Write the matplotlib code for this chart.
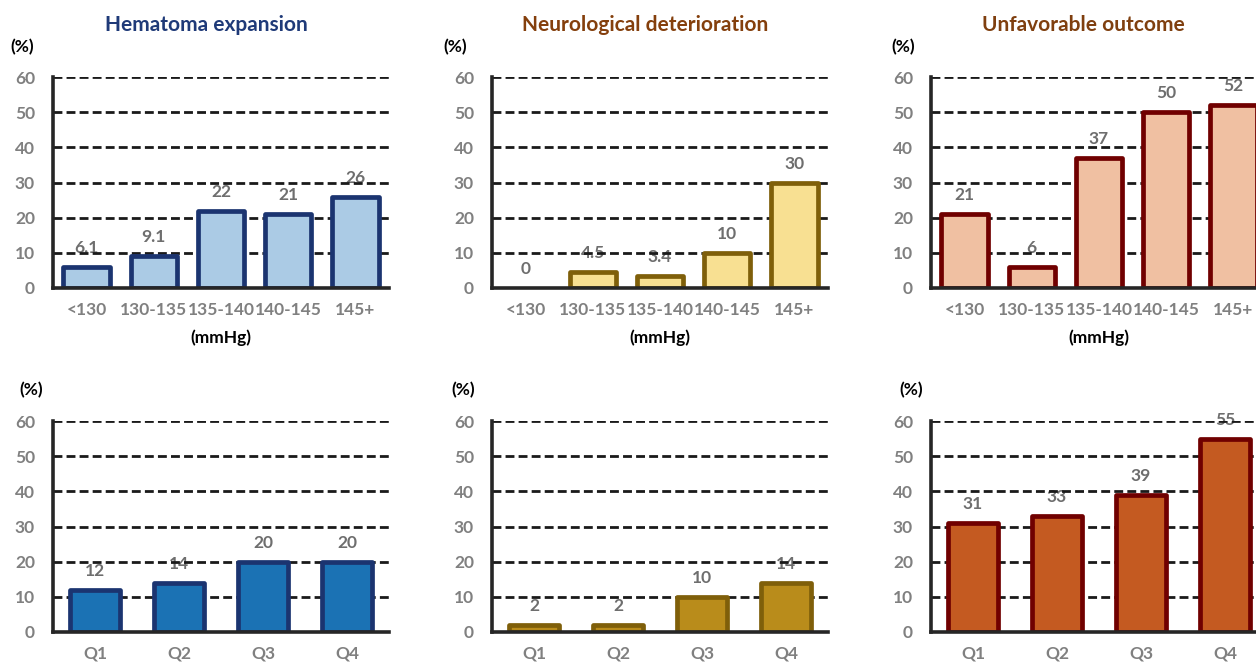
import numpy as np
from matplotlib import pyplot as plt

plt.rcParams['font.family'] = ['Lato', 'DejaVu Sans']
plt.rcParams['font.weight'] = 'bold'

# 数据
bp_cats = ['<130', '130-135', '135-140', '140-145', '145+']
q_cats = ['Q1', 'Q2', 'Q3', 'Q4']

he_bp = [6.1, 9.1, 22, 21, 26]
nd_bp = [0, 4.5, 3.4, 10, 30]
uo_bp = [21, 6, 37, 50, 52]

he_q = [12, 14, 20, 20]
nd_q = [2, 2, 10, 14]
uo_q = [31, 33, 39, 55]

bp_labels = ['6.1', '9.1', '22', '21', '26'], ['0', '4.5', '3.4', '10', '30'], ['21', '6', '37', '50', '52']

titles = ['Hematoma expansion', 'Neurological deterioration', 'Unfavorable outcome']
title_colors = ['#1f3a78', '#843f0c', '#7f3f0f']

edge_colors = ['#1b3470', '#7f5f0a', '#700000']
fill_top = ['#abcbe5', '#f8e092', '#f0c0a2']
fill_bot = ['#1b72b4', '#b98c1b', '#c45a21']

W, H = 1256, 666
fig = plt.figure(figsize=(12.56, 6.66), dpi=100)

lefts = [53, 492, 931]
aw = 336
ah = 211
tops = [77, 421]
pct_x = [[22, 455, 903], [31, 463, 911]]
pct_y = [47, 390]
title_x = [206, 645, 1083]

fs = 12.5


def draw(ax, cats, vals, labels, fill, edge, width):
    x = np.arange(len(cats))
    ax.set_xlim(-0.5, len(cats) - 0.5)
    ax.set_ylim(0, 60)
    for v in range(10, 61, 10):
        ax.axhline(v, color='#1a1a1a', lw=2.0, dashes=(3.2, 1.5), zorder=1.5)
    bars = ax.bar(x, vals, width=width, color=fill, edgecolor=edge, linewidth=3.4, zorder=2)
    for b, v in zip(bars, vals):
        b.set_joinstyle('round')
        if v == 0:
            b.set_edgecolor('none')
    for xi, v, lab in zip(x, vals, labels):
        ax.annotate(lab, (xi, v), xytext=(0, 13.5), textcoords='offset points',
                    ha='center', va='center', fontsize=fs, color='#6e6e6e',
                    fontweight='bold', zorder=1)
    ax.set_yticks(range(0, 61, 10))
    ax.set_xticks(x)
    ax.set_xticklabels(cats)
    ax.tick_params(length=0, labelsize=fs, labelcolor='#808080')
    ax.tick_params(axis='y', pad=13)
    ax.tick_params(axis='x', pad=10)
    for s in ['top', 'right']:
        ax.spines[s].set_visible(False)
    for s in ['left', 'bottom']:
        ax.spines[s].set_linewidth(2.6)
        ax.spines[s].set_color('#262626')
        ax.spines[s].set_zorder(3)
    ax.patch.set_alpha(0)


top_vals = [he_bp, nd_bp, uo_bp]
bot_vals = [he_q, nd_q, uo_q]

for i in range(3):
    ax = fig.add_axes([lefts[i] / W, 1 - (tops[0] + ah) / H, aw / W, ah / H])
    draw(ax, bp_cats, top_vals[i], bp_labels[i], fill_top[i], edge_colors[i], 0.69)
    ax.text(0.5, -0.235, '(mmHg)', transform=ax.transAxes, ha='center', va='center',
            fontsize=fs, color='black')
    fig.text(title_x[i] / W, 1 - 25 / H, titles[i], ha='center', va='center',
             fontsize=15, color=title_colors[i], fontweight='bold')

    ax2 = fig.add_axes([lefts[i] / W, 1 - (tops[1] + ah) / H, aw / W, ah / H])
    draw(ax2, q_cats, bot_vals[i], [str(v) for v in bot_vals[i]], fill_bot[i], edge_colors[i], 0.6)

    for r in range(2):
        fig.text(pct_x[r][i] / W, 1 - pct_y[r] / H, '(%)', ha='center', va='center',
                 fontsize=fs, color='black')

fig.savefig('out.png', dpi=100)
